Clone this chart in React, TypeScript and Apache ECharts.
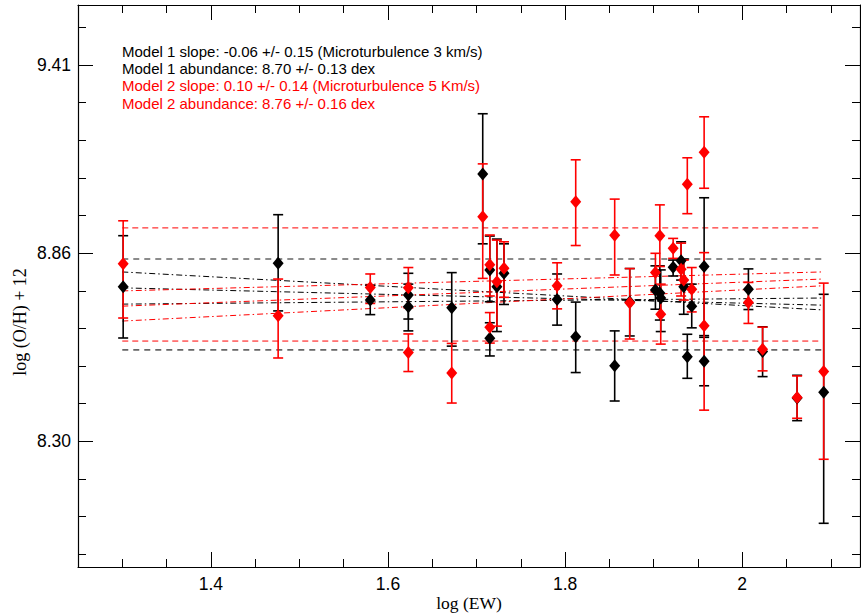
import React, { useEffect, useRef } from "react";
import * as echarts from "echarts";

// log(EW) of each line
const xPoints = [1.301, 1.476, 1.580, 1.623, 1.623, 1.672, 1.707, 1.715, 1.715, 1.723, 1.731, 1.791, 1.812, 1.856, 1.873, 1.902, 1.907, 1.908, 1.922, 1.931, 1.934, 1.938, 1.943, 1.957, 1.957, 2.007, 2.023, 2.062, 2.092];

// Model 1 (black): abundance and error bar bounds
const model1Y = [8.756, 8.826, 8.717, 8.732, 8.697, 8.694, 9.089, 8.806, 8.604, 8.756, 8.796, 8.719, 8.609, 8.523, 8.711, 8.747, 8.738, 8.723, 8.814, 8.833, 8.756, 8.550, 8.699, 8.816, 8.536, 8.749, 8.565, 8.428, 8.445];
const model1Low = [8.605, 8.685, 8.674, 8.661, 8.626, 8.581, 8.883, 8.712, 8.552, 8.624, 8.704, 8.643, 8.503, 8.419, 8.611, 8.690, 8.658, 8.624, 8.788, 8.776, 8.675, 8.486, 8.635, 8.612, 8.464, 8.689, 8.491, 8.361, 8.058];
const model1High = [8.907, 8.969, 8.761, 8.796, 8.764, 8.798, 9.267, 8.906, 8.650, 8.897, 8.883, 8.794, 8.711, 8.626, 8.810, 8.818, 8.818, 8.806, 8.835, 8.889, 8.838, 8.616, 8.764, 9.019, 8.607, 8.809, 8.638, 8.495, 8.734];

// Model 2 (red)
const model2Y = [8.824, 8.671, 8.754, 8.753, 8.562, 8.502, 8.963, 8.821, 8.637, 8.771, 8.811, 8.759, 9.007, 8.908, 8.709, 8.798, 8.907, 8.675, 8.870, 8.808, 8.776, 9.059, 8.749, 9.153, 8.641, 8.710, 8.572, 8.429, 8.506];
const model2Low = [8.664, 8.546, 8.707, 8.694, 8.506, 8.413, 8.781, 8.729, 8.590, 8.640, 8.725, 8.691, 8.878, 8.791, 8.602, 8.741, 8.816, 8.587, 8.840, 8.729, 8.717, 8.972, 8.682, 9.047, 8.392, 8.648, 8.508, 8.368, 8.247];
const model2High = [8.951, 8.779, 8.794, 8.813, 8.617, 8.589, 9.119, 8.909, 8.680, 8.894, 8.889, 8.827, 9.131, 9.015, 8.810, 8.855, 8.998, 8.764, 8.899, 8.885, 8.835, 9.137, 8.813, 9.258, 8.857, 8.769, 8.637, 8.493, 8.767];

// Fit lines span
const fitX = [1.30, 2.09];
// mean +/- sigma bands (dashed)
const model1Band = [8.570, 8.838];
const model2Band = [8.596, 8.930];
// slope fits (dash-dot), [y at fitX[0], y at fitX[1]]
const model1Fits = [[8.800, 8.688], [8.753, 8.702], [8.705, 8.723]];
const model2Fits = [[8.744, 8.800], [8.699, 8.779], [8.655, 8.759]];

// Axes
const xMin = 1.25;
const xMax = 2.133;
const yMin = 7.929;
const yMax = 9.588;
const xMajorTicks = [1.4, 1.6, 1.8, 2.0];
const xTickLabels = ["1.4", "1.6", "1.8", "2"];
const xMinorTicks = [1.3, 1.35, 1.45, 1.5, 1.55, 1.65, 1.7, 1.75, 1.85, 1.9, 1.95, 2.05, 2.1];
const yMajorTicks = [8.30, 8.8555, 9.411];
const yTickLabels = ["8.30", "8.86", "9.41"];
const yMinorTicks = [7.9667, 8.0778, 8.1889, 8.4111, 8.5222, 8.6333, 8.7444, 8.9666, 9.0777, 9.1888, 9.2999, 9.5221];

const legendLines = [
  "Model 1 slope: -0.06 +/- 0.15 (Microturbulence 3 km/s)",
  "Model 1 abundance: 8.70 +/- 0.13 dex",
  "Model 2 slope: 0.10 +/- 0.14 (Microturbulence 5 Km/s)",
  "Model 2 abundance: 8.76 +/- 0.16 dex",
];
const legendColors = ["#000000", "#000000", "#ff0000", "#ff0000"];

const BLACK = "#000000";
const RED = "#ff0000";
const SANS = "'Liberation Sans', Arial, Helvetica, sans-serif";
const SERIF = "'Liberation Serif', 'Times New Roman', serif";

function nearestLabel(v: number, ticks: number[], labels: string[]) {
  let best = 0;
  for (let i = 1; i < ticks.length; i++) {
    if (Math.abs(ticks[i] - v) < Math.abs(ticks[best] - v)) best = i;
  }
  return labels[best];
}

function makeAxis(kind: "x" | "y", position: string, major: boolean, showLine: boolean, showLabels: boolean) {
  const isX = kind === "x";
  const ticks = isX ? (major ? xMajorTicks : xMinorTicks) : (major ? yMajorTicks : yMinorTicks);
  return {
    type: "value",
    position,
    min: isX ? xMin : yMin,
    max: isX ? xMax : yMax,
    axisLine: { show: showLine, onZero: false, lineStyle: { color: BLACK, width: 1.2 } },
    axisTick: {
      show: true,
      inside: true,
      length: major ? 15 : 8,
      customValues: ticks,
      lineStyle: { color: BLACK, width: 1 },
    },
    axisLabel: {
      show: showLabels,
      customValues: ticks,
      color: BLACK,
      fontSize: 17.5,
      fontFamily: SANS,
      margin: isX ? 8 : 7,
      formatter: (v: number) =>
        isX ? nearestLabel(v, xMajorTicks, xTickLabels) : nearestLabel(v, yMajorTicks, yTickLabels),
    },
    splitLine: { show: false },
    minorTick: { show: false },
  };
}

function errorSeries(name: string, low: number[], high: number[], color: string, z: number) {
  return {
    name,
    type: "custom",
    xAxisIndex: 0,
    yAxisIndex: 0,
    z,
    encode: { x: 0, y: [1, 2] },
    data: xPoints.map((x, i) => [x, low[i], high[i]]),
    renderItem: (params: any, api: any) => {
      const x = api.value(0);
      const lo = api.coord([x, api.value(1)]);
      const hi = api.coord([x, api.value(2)]);
      const hw = 5;
      const style = { stroke: color, lineWidth: 1.6 };
      return {
        type: "group",
        children: [
          { type: "line", shape: { x1: lo[0], y1: lo[1], x2: hi[0], y2: hi[1] }, style },
          { type: "line", shape: { x1: hi[0] - hw, y1: hi[1], x2: hi[0] + hw, y2: hi[1] }, style },
          { type: "line", shape: { x1: lo[0] - hw, y1: lo[1], x2: lo[0] + hw, y2: lo[1] }, style },
        ],
      };
    },
  };
}

function pointSeries(name: string, ys: number[], color: string, z: number) {
  return {
    name,
    type: "scatter",
    xAxisIndex: 0,
    yAxisIndex: 0,
    z,
    symbol: "diamond",
    symbolSize: [11, 13],
    itemStyle: { color, opacity: 1 },
    data: xPoints.map((x, i) => [x, ys[i]]),
  };
}

function lineSeries(name: string, y0: number, y1: number, color: string, type: any, width: number, z: number) {
  return {
    name,
    type: "line",
    xAxisIndex: 0,
    yAxisIndex: 0,
    z,
    showSymbol: false,
    symbol: "none",
    silent: true,
    lineStyle: { color, type, width },
    data: [[fitX[0], y0], [fitX[1], y1]],
  };
}

export default function App() {
  const ref = useRef<HTMLDivElement>(null);
  useEffect(() => {
    document.body.style.margin = "0";
    if (!ref.current) return;
    const chart = echarts.init(ref.current, null, { renderer: "svg" });
    const dashDot = [6, 3, 1.5, 3];
    const series: any[] = [];
    model1Band.forEach((y, i) => series.push(lineSeries("m1band" + i, y, y, "#666666", [6, 5], 1.6, 2)));
    model2Band.forEach((y, i) => series.push(lineSeries("m2band" + i, y, y, RED, [6, 4], 1, 2)));
    model1Fits.forEach((f, i) => series.push(lineSeries("m1fit" + i, f[0], f[1], BLACK, dashDot, 1, 2)));
    model2Fits.forEach((f, i) => series.push(lineSeries("m2fit" + i, f[0], f[1], RED, dashDot, 1, 2)));
    series.push(errorSeries("m1err", model1Low, model1High, BLACK, 3));
    series.push(errorSeries("m2err", model2Low, model2High, RED, 4));
    series.push(pointSeries("m1pts", model1Y, BLACK, 5));
    series.push(pointSeries("m2pts", model2Y, RED, 6));

    const option: any = {
      animation: false,
      backgroundColor: "#ffffff",
      grid: { left: 78, top: 5, width: 782, height: 562 },
      xAxis: [
        makeAxis("x", "bottom", true, true, true),
        makeAxis("x", "bottom", false, false, false),
        makeAxis("x", "top", true, true, false),
        makeAxis("x", "top", false, false, false),
      ],
      yAxis: [
        makeAxis("y", "left", true, true, true),
        makeAxis("y", "left", false, false, false),
        makeAxis("y", "right", true, true, false),
        makeAxis("y", "right", false, false, false),
      ],
      series,
      graphic: [
        ...legendLines.map((t, i) => ({
          type: "text",
          left: 122,
          top: 44 + i * 17.2,
          style: { text: t, fill: legendColors[i], font: `15px ${SANS}` },
          z: 10,
        })),
        {
          type: "text",
          x: 469,
          y: 603,
          style: { text: "log (EW)", fill: BLACK, font: `17.5px ${SERIF}`, textAlign: "center", textVerticalAlign: "middle" },
        },
        {
          type: "text",
          x: 20,
          y: 322,
          rotation: Math.PI / 2,
          style: { text: "log (O/H) + 12", fill: BLACK, font: `18px ${SERIF}`, textAlign: "center", textVerticalAlign: "middle" },
        },
      ],
    };
    chart.setOption(option);
    return () => chart.dispose();
  }, []);
  return <div ref={ref} style={{ width: 861, height: 615 }} />;
}
